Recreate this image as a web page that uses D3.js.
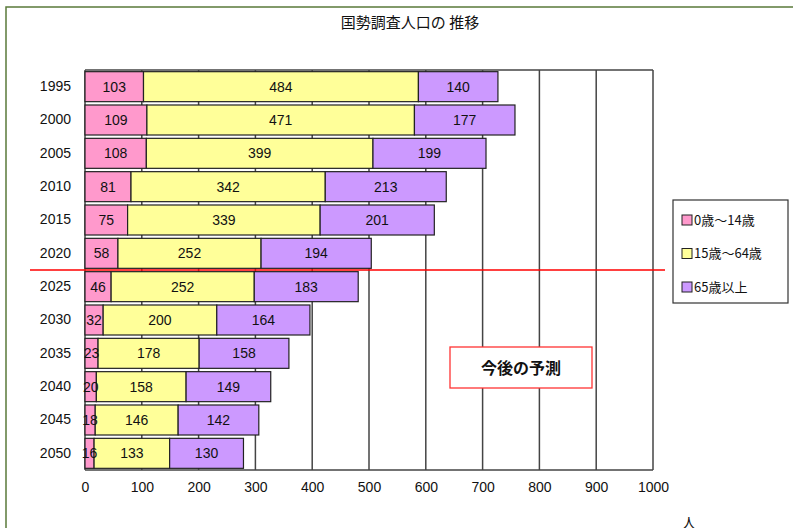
<!DOCTYPE html>
<html>
<head>
<meta charset="utf-8">
<script src="https://cdn.jsdelivr.net/npm/d3@7"></script>
<style>
  body { margin: 0; background: #fff; }
  text { font-family: "Liberation Sans", Arial, sans-serif; fill: #111; }
  .jp { font-family: "Noto Sans CJK JP", sans-serif; }
  .grid line { stroke: #444; stroke-width: 1.5; }
  .bar { stroke: #222; stroke-width: 1.2; }
</style>
</head>
<body>
<script>
var years    = ['1995', '2000', '2005', '2010', '2015', '2020', '2025', '2030', '2035', '2040', '2045', '2050'];
var young    = [103, 109, 108, 81, 75, 58, 46, 32, 23, 20, 18, 16];
var working  = [484, 471, 399, 342, 339, 252, 252, 200, 178, 158, 146, 133];
var elderly  = [140, 177, 199, 213, 201, 194, 183, 164, 158, 149, 142, 130];
var seriesNames = ['0歳～14歳', '15歳～64歳', '65歳以上'];
var colors = ['#ff99cc', '#ffff99', '#cc99ff'];
var xTicks = [0, 100, 200, 300, 400, 500, 600, 700, 800, 900, 1000];

var width = 793, height = 528,
    margin = { top: 70, left: 85, right: 140, bottom: 58 },
    chartWidth = 653 - margin.left,
    chartHeight = 470 - margin.top;

var svg = d3.select('body').append('svg')
  .attr('width', width)
  .attr('height', height);

// outer frame
svg.append('rect')
  .attr('x', 6).attr('y', 7)
  .attr('width', width + 10).attr('height', height + 10)
  .attr('fill', 'none').attr('stroke', '#5a7a3a').attr('stroke-width', 1.5);

svg.append('text')
  .attr('class', 'jp')
  .attr('x', 410).attr('y', 28)
  .attr('text-anchor', 'middle')
  .style('font-size', '15px')
  .text('国勢調査人口の 推移');

var g = svg.append('g')
  .attr('transform', 'translate(' + margin.left + ',' + margin.top + ')');

var x = d3.scaleLinear().domain([0, 1000]).range([0, chartWidth]);
var y = d3.scaleBand().domain(years).range([0, chartHeight]).paddingInner(0.1).paddingOuter(0.05);

var rows = years.map(function (yr, i) {
  return { year: yr, v: [young[i], working[i], elderly[i]] };
});
var stack = d3.stack().keys([0, 1, 2]).value(function (d, k) { return d.v[k]; });
var layers = stack(rows);

// grid
g.append('g').attr('class', 'grid')
  .selectAll('line').data(xTicks).enter().append('line')
  .attr('x1', function (d) { return x(d); })
  .attr('x2', function (d) { return x(d); })
  .attr('y1', 0).attr('y2', chartHeight);

g.append('line').attr('x1', 0).attr('x2', chartWidth).attr('y1', 0).attr('y2', 0)
  .attr('stroke', '#444').attr('stroke-width', 1.5);
g.append('line').attr('x1', 0).attr('x2', chartWidth).attr('y1', chartHeight).attr('y2', chartHeight)
  .attr('stroke', '#444').attr('stroke-width', 1.5);

// bars
layers.forEach(function (layer, k) {
  var lg = g.append('g');
  lg.selectAll('rect').data(layer).enter().append('rect')
    .attr('class', 'bar')
    .attr('x', function (d) { return x(d[0]); })
    .attr('y', function (d) { return y(d.data.year); })
    .attr('width', function (d) { return x(d[1]) - x(d[0]); })
    .attr('height', y.bandwidth())
    .attr('fill', colors[k]);
});
layers.forEach(function (layer, k) {
  g.append('g').selectAll('text').data(layer).enter().append('text')
    .attr('x', function (d) { return (x(d[0]) + x(d[1])) / 2; })
    .attr('y', function (d) { return y(d.data.year) + y.bandwidth() / 2; })
    .attr('dy', '0.36em')
    .attr('text-anchor', 'middle')
    .style('font-size', '14px')
    .text(function (d) { return d.data.v[k]; });
});

// axes
var xAxis = d3.axisBottom(x).tickValues(xTicks).tickFormat(d3.format('d')).tickSize(0).tickPadding(12);
var yAxis = d3.axisLeft(y).tickSize(0).tickPadding(14);
g.append('g').attr('transform', 'translate(0,' + chartHeight + ')').call(xAxis)
  .call(function (s) { s.select('.domain').remove(); })
  .selectAll('text').style('font-size', '14px').style('font-family', '"Liberation Sans", Arial, sans-serif').attr('fill', '#111');
g.append('g').call(yAxis)
  .call(function (s) { s.select('.domain').remove(); })
  .selectAll('text').style('font-size', '14px').style('font-family', '"Liberation Sans", Arial, sans-serif').attr('fill', '#111');

// forecast divider
var yDiv = y('2025') - (y.step() - y.bandwidth()) / 2;
svg.append('line')
  .attr('x1', 30).attr('x2', 665)
  .attr('y1', margin.top + yDiv).attr('y2', margin.top + yDiv)
  .attr('stroke', '#ff0000').attr('stroke-width', 1.3);

// forecast note
svg.append('rect')
  .attr('x', 450).attr('y', 347).attr('width', 142).attr('height', 41)
  .attr('fill', '#fff').attr('stroke', '#ff3333').attr('stroke-width', 1.3);
svg.append('text')
  .attr('class', 'jp')
  .attr('x', 521).attr('y', 368).attr('dy', '0.36em')
  .attr('text-anchor', 'middle')
  .style('font-size', '16px').style('font-weight', 'bold')
  .text('今後の予測');

// legend
var legend = svg.append('g').attr('transform', 'translate(673,200)');
legend.append('rect').attr('width', 115).attr('height', 103)
  .attr('fill', '#fff').attr('stroke', '#333').attr('stroke-width', 1.2);
seriesNames.forEach(function (name, i) {
  var ly = 20 + i * 33.5;
  legend.append('rect').attr('x', 9).attr('y', ly - 5).attr('width', 10).attr('height', 10)
    .attr('fill', colors[i]).attr('stroke', '#222');
  legend.append('text').attr('class', 'jp').attr('x', 21).attr('y', ly).attr('dy', '0.36em')
    .style('font-size', '13px').text(name);
});

// unit (cut off at the bottom edge, as in the reference)
svg.append('text').attr('class', 'jp')
  .attr('x', 689).attr('y', 528).attr('text-anchor', 'middle')
  .style('font-size', '14px').text('人');
</script>
</body>
</html>
